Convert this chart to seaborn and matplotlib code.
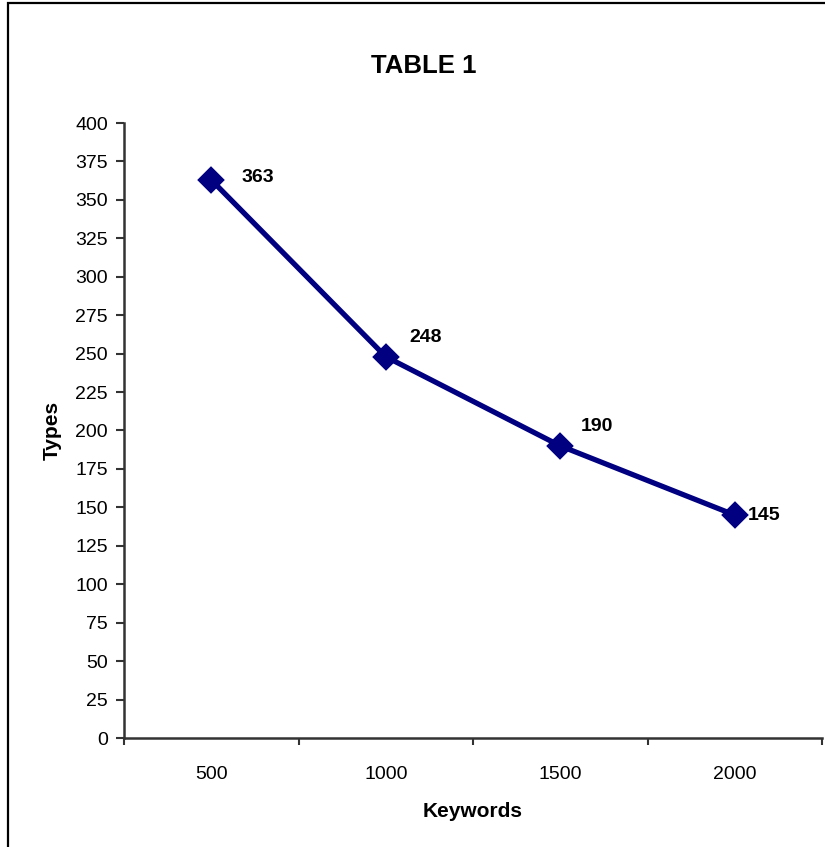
import matplotlib
matplotlib.use("Agg")
import matplotlib.pyplot as plt
from matplotlib.patches import Rectangle
import seaborn as sns
import pandas as pd

# Chart data
keywords = ["500", "1000", "1500", "2000"]
types = [363, 248, 190, 145]
y_ticks = list(range(0, 401, 25))

# Label placement (pixel offsets from each point)
label_dx = [30, 24, 21, 13]
label_dy = [2, 19, 19, 0]

sns.set_theme(style="white")
plt.rcParams["font.family"] = ["Liberation Sans", "DejaVu Sans"]

df = pd.DataFrame({"Keywords": keywords, "Types": types})

fig = plt.figure(figsize=(8.25, 8.47), dpi=100)
ax = fig.add_axes([124 / 825, 1 - 738 / 847, (822 - 124) / 825, (738 - 123) / 847])

navy = "#000080"
sns.pointplot(data=df, x="Keywords", y="Types", color=navy, markers="D",
              linestyles="-", markersize=11, linewidth=3.8, ax=ax)

ax.set_xlim(-0.5, len(keywords) - 0.5)
ax.set_ylim(0, 400)
ax.set_yticks(y_ticks)
ax.set_yticklabels([str(t) for t in y_ticks])

# Category boundary ticks on x, none at the category centres
ax.set_xticks([i - 0.5 for i in range(len(keywords) + 1)], minor=True)
ax.tick_params(axis="x", which="major", length=0, pad=20, labelsize=14, labelcolor="black")
ax.tick_params(axis="x", which="minor", length=5, width=1.5, color="#333333", direction="out", bottom=True)
ax.tick_params(axis="y", which="major", length=5.5, width=1.5, color="#333333", direction="out",
               left=True, pad=6, labelsize=14, labelcolor="black")

for side in ["top", "right"]:
    ax.spines[side].set_visible(False)
for side in ["left", "bottom"]:
    ax.spines[side].set_color("#333333")
    ax.spines[side].set_linewidth(1.8)

ax.set_xlabel("Keywords", fontsize=15, fontweight="bold", labelpad=14, color="black")
ax.set_ylabel("Types", fontsize=15, fontweight="bold", labelpad=10, color="black")

for i, v in enumerate(types):
    ax.annotate(str(v), (i, v), xytext=(label_dx[i], label_dy[i]), textcoords="offset pixels",
                ha="left", va="center", fontsize=14, fontweight="bold", color="black")

fig.text(424 / 825, 1 - 66 / 847, "TABLE 1", ha="center", va="center",
         fontsize=18.5, fontweight="bold", color="black")

# Chart-area frame
fig.add_artist(Rectangle((8 / 825, -0.02), 1.0, 1 - 3 / 847 + 0.02, transform=fig.transFigure,
                         fill=False, edgecolor="black", linewidth=1.6))

fig.savefig("out.png", dpi=100)
